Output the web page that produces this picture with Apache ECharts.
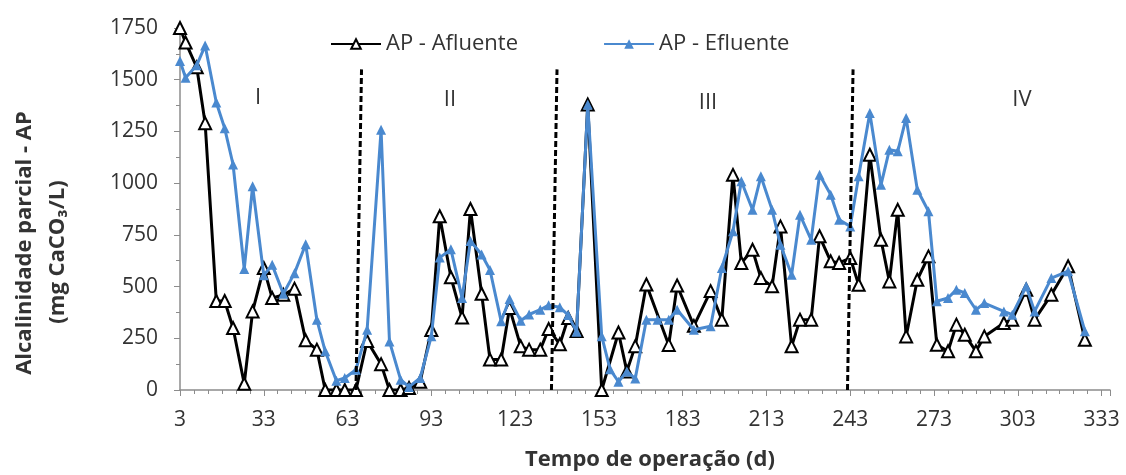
<!DOCTYPE html>
<html>
<head>
<meta charset="utf-8">
<title>Alcalinidade parcial - AP</title>
<script src="https://cdn.jsdelivr.net/npm/echarts@6/dist/echarts.min.js"></script>
<style>
  html, body { margin: 0; padding: 0; background: #fff; }
  #chart { width: 1126px; height: 475px; }
</style>
</head>
<body>
<div id="chart"></div>
<script>
// dias de operação (mesmas datas para as duas séries)
const dias = [
  3, 5, 9, 12, 16, 19, 22, 26, 29, 33,
  36, 40, 44, 48, 52, 55, 59, 62, 66, 70,
  75, 78, 82, 85, 89, 93, 96, 100, 104, 107,
  111, 114, 118, 121, 125, 128, 132, 135, 139, 142,
  145, 149, 154, 157, 160, 163, 166, 170, 174, 178,
  181, 187, 193, 197, 201, 204, 208, 211, 215, 218,
  222, 225, 229, 232, 236, 239, 243, 246, 250, 254,
  257, 260, 263, 267, 271, 274, 278, 281, 284, 288,
  291, 298, 301, 306, 309, 315, 321, 327
];
// AP - Afluente (mg CaCO3/L)
const afluente = [
  1750, 1680, 1560, 1290, 430, 430, 300, 30, 380, 590,
  445, 460, 490, 240, 195, 0, 0, 0, 0, 237,
  125, 0, 0, 10, 40, 290, 840, 545, 350, 875,
  465, 147, 147, 396, 211, 195, 195, 295, 221, 348,
  285, 1380, 0, null, 278, 90, 212, 510, null, 218,
  505, 310, 478, 340, 1040, 614, 678, 541, 501, 791,
  211, 340, 340, 743, 622, 614, 638, 509, 1137, 726,
  525, 871, 259, 533, 646, 219, 187, 316, 267, 187,
  259, 324, 340, 485, 340, 461, 598, 243
];
// AP - Efluente (mg CaCO3/L)
const efluente = [
  1590, 1510, 1570, 1665, 1390, 1265, 1090, 585, 985, 555,
  605, 465, 565, 705, 340, 187, 45, 58, 98, 291,
  1258, 235, 50, 15, 58, 260, 640, 680, 445, 720,
  655, 580, 332, 440, 335, 365, 388, 410, 400, 362,
  282, 1380, 260, 100, 40, 90, 55, 340, 340, 340,
  388, 291, 308, 590, 767, 1009, 871, 1033, 871, 702,
  557, 847, 726, 1041, 944, 823, 791, 1033, 1339, 992,
  1161, 1154, 1315, 968, 864, 429, 445, 485, 469, 388,
  420, 380, 364, 501, 380, 541, 574, 284
];
// divisões entre fases (dia na base, dia no topo) e altura das linhas
const divisoes = [[66, 68], [136, 138], [242, 244]];
const alturaDivisao = 1550;
const fases = ["I", "II", "III", "IV"];

const fonte = "Open Sans";
const azul = "#4a89cf";

const chart = echarts.init(document.getElementById("chart"));

const option = {
  animation: false,
  backgroundColor: "#fff",
  textStyle: { fontFamily: fonte },
  grid: {
    left: 180,
    right: 16,
    top: 28,
    bottom: 85,
    outerBoundsMode: "none"
  },
  legend: {
    left: 325,
    top: 28,
    itemWidth: 50,
    itemHeight: 12,
    itemGap: 85,
    textStyle: { fontSize: 22, color: "#333", fontFamily: fonte },
    data: ["AP - Afluente", "AP - Efluente"]
  },
  xAxis: {
    type: "value",
    min: 3,
    max: 336,
    interval: 30,
    axisLine: { show: true, lineStyle: { color: "#8c8c8c", width: 1.5 } },
    axisTick: { show: true, length: 6, lineStyle: { color: "#8c8c8c" } },
    minorTick: { show: true, splitNumber: 6, length: 4, lineStyle: { color: "#8c8c8c" } },
    splitLine: { show: false },
    axisLabel: {
      margin: 20,
      fontSize: 21,
      color: "#333",
      fontFamily: fonte,
      showMaxLabel: false,
      formatter: (v) => String(v)
    }
  },
  yAxis: {
    type: "value",
    min: 0,
    max: 1750,
    interval: 250,
    axisLine: { show: true, lineStyle: { color: "#8c8c8c", width: 1.5 } },
    axisTick: { show: true, length: 6, lineStyle: { color: "#8c8c8c" } },
    minorTick: { show: true, splitNumber: 2, length: 4, lineStyle: { color: "#8c8c8c" } },
    splitLine: { show: false },
    axisLabel: {
      margin: 22,
      fontSize: 21,
      color: "#333",
      fontFamily: fonte,
      formatter: (v) => String(v)
    }
  },
  graphic: [
    // títulos dos eixos
    {
      type: "text", x: 25, y: 243, rotation: Math.PI / 2,
      style: { text: "Alcalinidade parcial - AP", fontSize: 22, fontWeight: "bold",
        fontFamily: fonte, fill: "#333", align: "center", verticalAlign: "middle" }
    },
    {
      type: "text", x: 58, y: 252, rotation: Math.PI / 2,
      style: { text: "(mg CaCO\u2083/L)", fontSize: 22, fontWeight: "bold",
        fontFamily: fonte, fill: "#333", align: "center", verticalAlign: "middle" }
    },
    {
      type: "text", x: 650, y: 460,
      style: { text: "Tempo de operação (d)", fontSize: 22, fontWeight: "bold",
        fontFamily: fonte, fill: "#333", align: "center", verticalAlign: "middle" }
    },
    // rótulos das fases
    ...fases.map((f, i) => ({
      type: "text", x: [258, 450, 708, 1022][i], y: [98, 100, 103, 100][i],
      style: { text: f, fontSize: 22, fontFamily: fonte, fill: "#333",
        align: "center", verticalAlign: "middle" }
    }))
  ],
  series: [
    {
      name: "AP - Afluente",
      type: "line",
      data: dias.map((d, i) => [d, afluente[i]]),
      connectNulls: true,
      color: "#000",
      lineStyle: { color: "#000", width: 3 },
      symbol: "triangle",
      symbolSize: 12,
      itemStyle: { color: "#fff", borderColor: "#000", borderWidth: 2 },
      z: 2
    },
    {
      name: "AP - Efluente",
      type: "line",
      data: dias.map((d, i) => [d, efluente[i]]),
      connectNulls: true,
      color: azul,
      lineStyle: { color: azul, width: 3 },
      symbol: "triangle",
      symbolSize: 10,
      itemStyle: { color: azul },
      z: 3,
      markLine: {
        silent: true,
        symbol: "none",
        label: { show: false },
        lineStyle: { color: "#000", type: [6, 3], width: 3 },
        data: divisoes.map(([a, b]) => [
          { coord: [a, 0] },
          { coord: [b, alturaDivisao] }
        ])
      }
    }
  ]
};

chart.setOption(option);
</script>
</body>
</html>
